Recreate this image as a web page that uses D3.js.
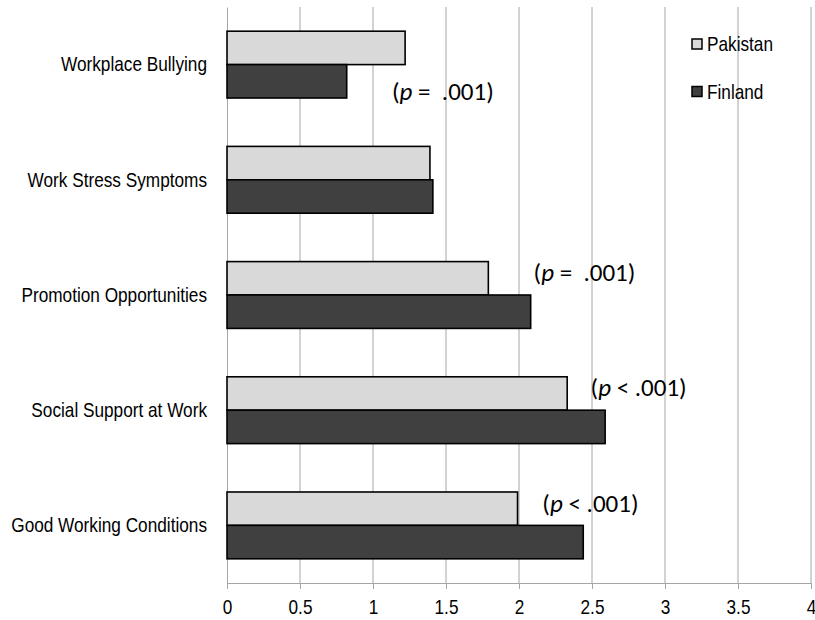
<!DOCTYPE html>
<html>
<head>
<meta charset="utf-8">
<script src="https://cdn.jsdelivr.net/npm/d3@7"></script>
<style>
  body { margin: 0; background: #fff; }
  svg text { font-family: "Liberation Sans Narrow", "Arial Narrow", "Liberation Sans", Arial, sans-serif; }
  .note { font-family: Carlito, Lato, "Open Sans", sans-serif; white-space: pre; }
</style>
</head>
<body>
<div id="chart"></div>
<script>
// categories, top to bottom
var categories = ["Workplace Bullying", "Work Stress Symptoms", "Promotion Opportunities",
                  "Social Support at Work", "Good Working Conditions"];
var seriesNames = ["Pakistan", "Finland"];
var pakistan = [1.22, 1.39, 1.79, 2.33, 1.99];
var finland  = [0.82, 1.41, 2.08, 2.59, 2.44];
var xTicks = [0, 0.5, 1, 1.5, 2, 2.5, 3, 3.5, 4];
var tickLabels = ["0", "0.5", "1", "1.5", "2", "2.5", "3", "3.5", "4"];

// p-value notes: category, relation sign, value, x where text starts, series row it sits by
var noteCats  = ["Workplace Bullying", "Promotion Opportunities", "Social Support at Work", "Good Working Conditions"];
var noteSigns = ["=  ", "=  ", "< ", "< "];
var noteX     = [1.13, 2.10, 2.49, 2.16];
var noteRow   = ["Finland", "Pakistan", "Pakistan", "Pakistan"];

var colors = { Pakistan: "#d9d9d9", Finland: "#404040" };

// no narrow font installed, so squeeze the regular one
var squeeze = "scale(0.82,1)";

var margin = {top: 7, right: 4, bottom: 37, left: 227},
  width = 815 - margin.left - margin.right,
  height = 620 - margin.top - margin.bottom;

var svg = d3.select("#chart")
  .append("svg")
    .attr("width", width + margin.left + margin.right)
    .attr("height", height + margin.top + margin.bottom)
  .append("g")
    .attr("transform", "translate(" + margin.left + "," + margin.top + ")");

var x = d3.scaleLinear().domain([0, 4]).range([0, width]);

var y = d3.scaleBand()
  .domain(categories)
  .range([0, height])
  .paddingInner(0.42)
  .paddingOuter(0.21);

var ySub = d3.scaleBand()
  .domain(seriesNames)
  .range([0, y.bandwidth()]);

// gridlines
svg.selectAll("line.grid")
  .data(xTicks.slice(1))
  .enter()
  .append("line")
    .attr("class", "grid")
    .attr("x1", function(d) { return x(d); })
    .attr("x2", function(d) { return x(d); })
    .attr("y1", 0)
    .attr("y2", height)
    .style("stroke", "#a6a6a6")
    .style("stroke-width", 1);

// x axis
var xAxis = svg.append("g")
  .attr("transform", "translate(0," + height + ")")
  .call(d3.axisBottom(x)
    .tickValues(xTicks)
    .tickFormat(function(d, i) { return tickLabels[i]; })
    .tickSize(6)
    .tickSizeOuter(0));
xAxis.select(".domain").style("stroke", "#a6a6a6");
xAxis.selectAll(".tick line").style("stroke", "#a6a6a6");
xAxis.selectAll("text")
  .attr("y", 0)
  .attr("dy", null)
  .attr("transform", "translate(0,31) " + squeeze)
  .style("font-size", "21px")
  .style("fill", "#000")
  .style("font-family", null);

// y axis (line only, labels)
var yAxis = svg.append("g")
  .call(d3.axisLeft(y).tickSize(0));
yAxis.select(".domain").style("stroke", "#a6a6a6");
yAxis.selectAll("text")
  .attr("x", 0)
  .attr("transform", "translate(-20,0) " + squeeze)
  .style("font-size", "21px")
  .style("fill", "#000")
  .style("font-family", null);

// bars
var rows = categories.map(function(c, i) {
  return [{cat: c, s: "Pakistan", v: pakistan[i]}, {cat: c, s: "Finland", v: finland[i]}];
});

svg.selectAll("g.cat")
  .data(rows)
  .enter()
  .append("g")
    .attr("class", "cat")
    .attr("transform", function(d) { return "translate(0," + y(d[0].cat) + ")"; })
  .selectAll("rect")
  .data(function(d) { return d; })
  .enter()
  .append("rect")
    .attr("x", x(0))
    .attr("y", function(d) { return ySub(d.s); })
    .attr("width", function(d) { return x(d.v) - x(0); })
    .attr("height", ySub.bandwidth())
    .style("fill", function(d) { return colors[d.s]; })
    .style("stroke", "#000")
    .style("stroke-width", 1.6);

// p-value notes
var noteShift = { Pakistan: -6, Finland: 10 };
var notes = svg.selectAll("text.note")
  .data(noteCats)
  .enter()
  .append("text")
    .attr("class", "note")
    .attr("x", function(d, i) { return x(noteX[i]); })
    .attr("y", function(d, i) {
      return y(d) + ySub(noteRow[i]) + ySub.bandwidth() / 2 + noteShift[noteRow[i]];
    })
    .attr("dy", "0.36em")
    .style("font-size", "25px")
    .style("fill", "#000");
notes.append("tspan").text("(");
notes.append("tspan").style("font-style", "italic").text("p");
notes.append("tspan").text(function(d, i) { return " " + noteSigns[i] + ".001)"; });

// legend
var legend = svg.selectAll("g.legend")
  .data(seriesNames)
  .enter()
  .append("g")
    .attr("class", "legend")
    .attr("transform", function(d, i) { return "translate(" + (692 - margin.left) + "," + (39 - margin.top + i * 47.5) + ")"; });
legend.append("rect")
  .attr("width", 10)
  .attr("height", 10)
  .style("fill", function(d) { return colors[d]; })
  .style("stroke", "#000")
  .style("stroke-width", 1.5);
legend.append("text")
  .attr("transform", "translate(15,5) " + squeeze)
  .attr("dy", "0.35em")
  .style("font-size", "21px")
  .text(function(d) { return d; });
</script>
</body>
</html>
